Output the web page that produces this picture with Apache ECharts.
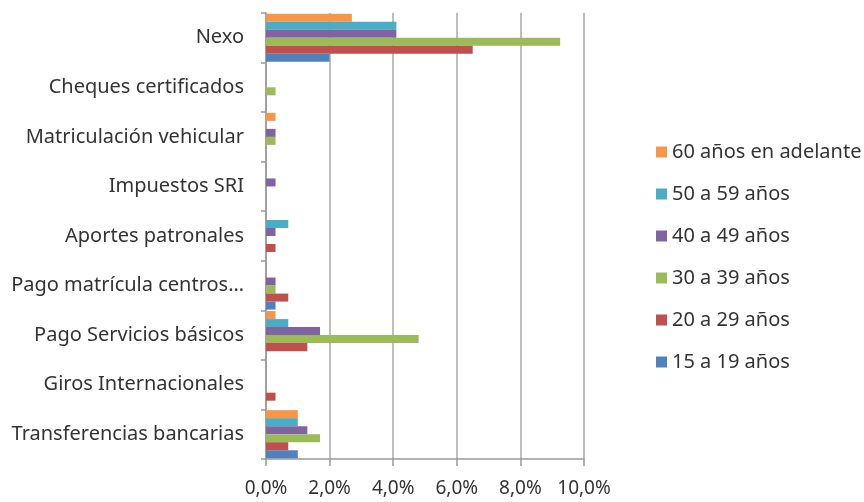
<!DOCTYPE html>
<html>
<head>
<meta charset="utf-8">
<script src="https://cdn.jsdelivr.net/npm/echarts@6/dist/echarts.min.js"></script>
<style>
  body { margin: 0; background: #ffffff; }
  #chart { width: 864px; height: 502px; }
</style>
</head>
<body>
<div id="chart"></div>
<script>
// categories, bottom to top as on the chart
var categories = ["Transferencias bancarias", "Giros Internacionales", "Pago Servicios básicos",
  "Pago matrícula centros…", "Aportes patronales", "Impuestos SRI",
  "Matriculación vehicular", "Cheques certificados", "Nexo"];

// top to bottom inside each group (and in the legend)
var ageGroups = ["60 años en adelante", "50 a 59 años", "40 a 49 años", "30 a 39 años", "20 a 29 años", "15 a 19 años"];

// values in percent, same order as categories
var age60plus = [1.0, 0, 0.3, 0, 0, 0, 0.3, 0, 2.7];
var age50to59 = [1.0, 0, 0.7, 0, 0.7, 0, 0, 0, 4.1];
var age40to49 = [1.3, 0, 1.7, 0.3, 0.3, 0.3, 0.3, 0, 4.1];
var age30to39 = [1.7, 0, 4.8, 0.3, 0, 0, 0.3, 0.3, 9.25];
var age20to29 = [0.7, 0.3, 1.3, 0.7, 0.3, 0, 0, 0, 6.5];
var age15to19 = [1.0, 0, 0, 0.3, 0, 0, 0, 0, 2.0];

var xTicks = [0, 2, 4, 6, 8, 10];

var colors = ["#F79646", "#4BACC6", "#8064A2", "#9BBB59", "#C0504D", "#4F81BD"];
var allValues = [age60plus, age50to59, age40to49, age30to39, age20to29, age15to19];

var font = "Noto Sans";

var series = ageGroups.map(function (name, i) {
  return {
    name: name,
    type: 'bar',
    data: allValues[i],
    barCategoryGap: '3%',
    barGap: '0%',
    itemStyle: { color: colors[i] }
  };
});

var chart = echarts.init(document.getElementById('chart'));
chart.setOption({
  animation: false,
  color: colors,
  grid: { left: 266, right: 280, top: 13, bottom: 43, containLabel: false },
  legend: {
    orient: 'vertical',
    left: 651,
    top: 137,
    itemWidth: 11,
    itemHeight: 11,
    itemGap: 22,
    icon: 'rect',
    data: ageGroups,
    textStyle: { fontFamily: font, fontSize: 20, color: '#333' }
  },
  xAxis: {
    type: 'value',
    min: xTicks[0],
    max: xTicks[xTicks.length - 1],
    interval: 2,
    axisLine: { show: true, lineStyle: { color: '#999', width: 1.5 } },
    axisTick: { show: true, length: 7, lineStyle: { color: '#999', width: 1.5 } },
    splitLine: { show: true, lineStyle: { color: '#a8a8a8', width: 1.5 } },
    axisLabel: {
      margin: 20,
      fontFamily: font,
      fontSize: 19,
      color: '#333',
      formatter: function (v) { return v.toFixed(1).replace('.', ',') + '%'; }
    }
  },
  yAxis: {
    type: 'category',
    data: categories,
    axisLine: { show: true, lineStyle: { color: '#999', width: 1.5 } },
    axisTick: { show: true, length: 5, lineStyle: { color: '#999', width: 1.5 } },
    axisLabel: { margin: 22, fontFamily: font, fontSize: 20, color: '#333' }
  },
  series: series
});
</script>
</body>
</html>
